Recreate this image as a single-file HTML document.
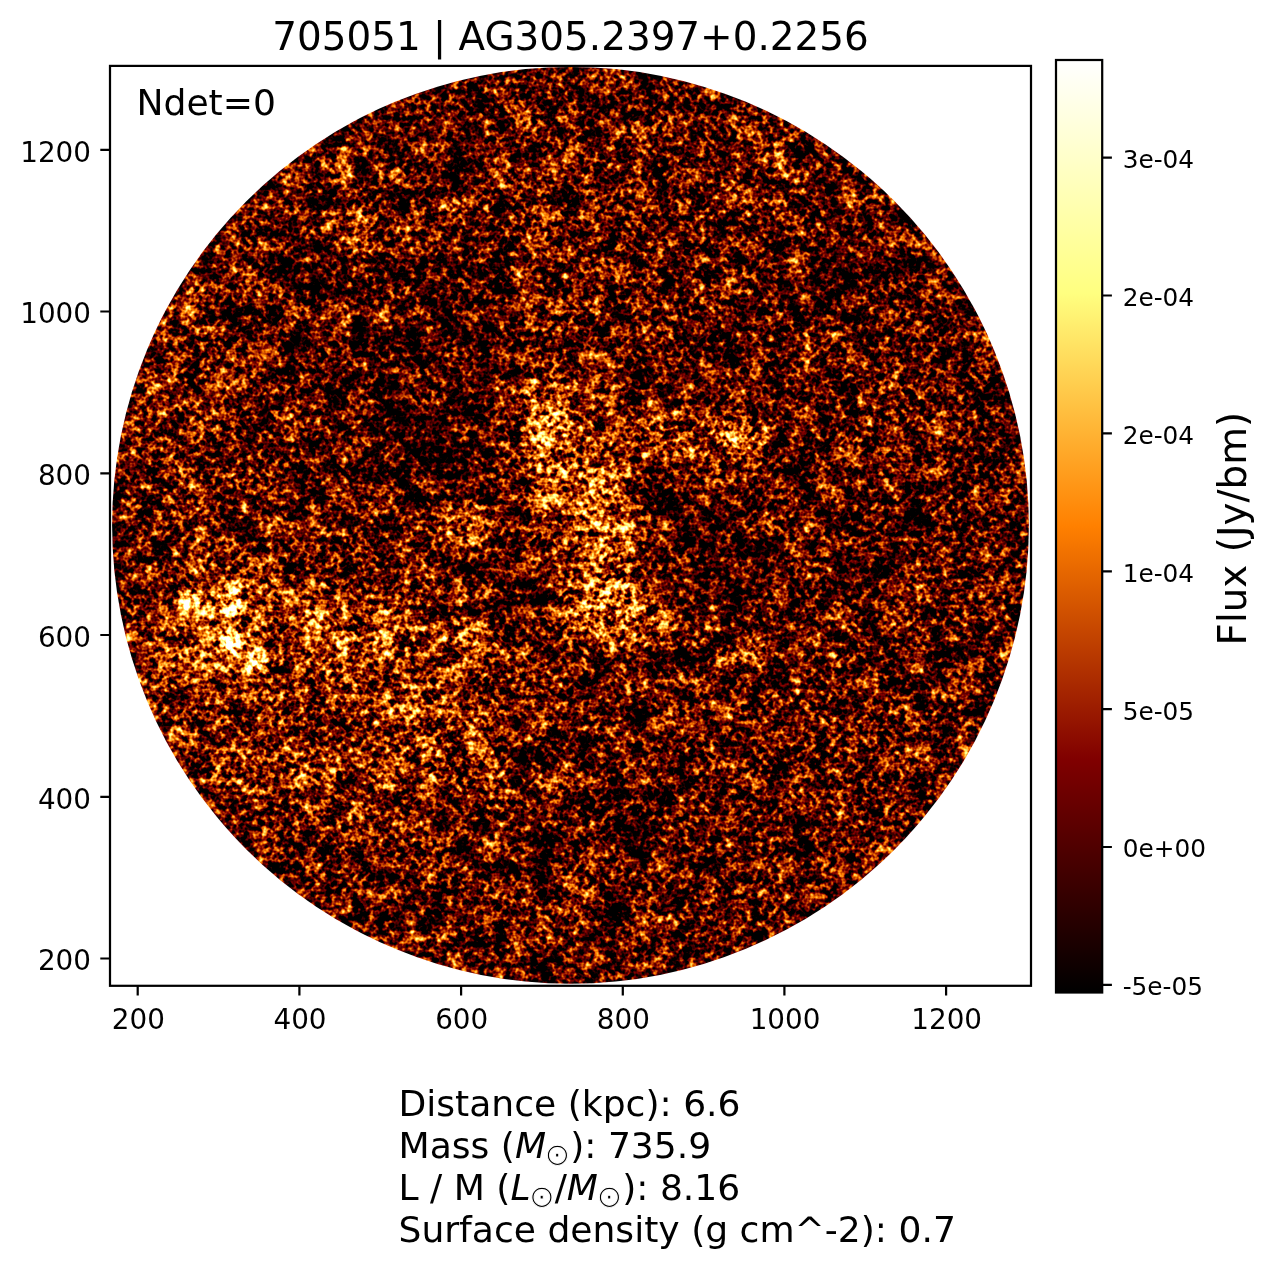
<!DOCTYPE html>
<html lang="en">
<head>
<meta charset="utf-8">
<title>705051 | AG305.2397+0.2256</title>
<style>
html,body{margin:0;padding:0;background:#fff;}
body{width:1274px;height:1267px;overflow:hidden;}
svg{display:block;}
text{font-family:"DejaVu Sans","Liberation Sans",sans-serif;fill:#000;}
.tk{font-size:27.8px;}
.ck{font-size:24.75px;}
.info{font-size:36.1px;}
.it{font-style:italic;}
.sun{font-size:30.8px;stroke:#fff;stroke-width:1.0px;}
</style>
</head>
<body>
<svg xmlns="http://www.w3.org/2000/svg" width="1274" height="1267" viewBox="0 0 1274 1267">
<defs>
  <clipPath id="disk"><circle cx="570.5" cy="525.3" r="458.4"/></clipPath>
  <linearGradient id="afmhot" x1="0" y1="1" x2="0" y2="0">
    <stop offset="0" stop-color="#000000"/>
    <stop offset="0.25" stop-color="#800000"/>
    <stop offset="0.5" stop-color="#ff8000"/>
    <stop offset="0.75" stop-color="#ffff80"/>
    <stop offset="1" stop-color="#ffffff"/>
  </linearGradient>
  <filter id="b16" x="-30%" y="-30%" width="160%" height="160%" color-interpolation-filters="sRGB"><feGaussianBlur stdDeviation="16"/></filter>
  <filter id="b7" x="-30%" y="-30%" width="160%" height="160%" color-interpolation-filters="sRGB"><feGaussianBlur stdDeviation="7"/></filter>
  <filter id="noise" x="0" y="0" width="100%" height="100%" filterUnits="objectBoundingBox" color-interpolation-filters="sRGB">
    <feGaussianBlur in="SourceGraphic" stdDeviation="3.5" result="low"/>
    <feTurbulence type="fractalNoise" baseFrequency="0.19" numOctaves="2" seed="7" result="t1"/>
    <feColorMatrix in="t1" type="matrix" values="1 0 0 0 0  1 0 0 0 0  1 0 0 0 0  0 0 0 0 1" result="g1a"/>
    <feGaussianBlur in="g1a" stdDeviation="0.7" result="g1"/>
    <feTurbulence type="fractalNoise" baseFrequency="0.043" numOctaves="1" seed="3" result="t2"/>
    <feColorMatrix in="t2" type="matrix" values="1 0 0 0 0  1 0 0 0 0  1 0 0 0 0  0 0 0 0 1" result="g2"/>
    <feTurbulence type="fractalNoise" baseFrequency="0.071" numOctaves="1" seed="11" result="t3"/>
    <feColorMatrix in="t3" type="matrix" values="1 0 0 0 0  1 0 0 0 0  1 0 0 0 0  0 0 0 0 1" result="g3"/>
    <feTurbulence type="fractalNoise" baseFrequency="0.027" numOctaves="1" seed="5" result="t4"/>
    <feColorMatrix in="t4" type="matrix" values="1 0 0 0 0  1 0 0 0 0  1 0 0 0 0  0 0 0 0 1" result="g4"/>
    <feTurbulence type="fractalNoise" baseFrequency="0.117" numOctaves="1" seed="23" result="t5"/>
    <feColorMatrix in="t5" type="matrix" values="1 0 0 0 0  1 0 0 0 0  1 0 0 0 0  0 0 0 0 1" result="g5"/>
    <feComposite in="g2" in2="g3" operator="arithmetic" k1="0" k2="0.5" k3="0.5" k4="0" result="ma"/>
    <feComposite in="g5" in2="g4" operator="arithmetic" k1="0" k2="0.625" k3="0.375" k4="0" result="mb"/>
    <feComposite in="ma" in2="mb" operator="arithmetic" k1="0" k2="0.6" k3="0.4" k4="0" result="mid"/>
    <feComposite in="g1" in2="mid" operator="arithmetic" k1="0" k2="1" k3="1.5" k4="-0.75" result="m"/>
    <feComposite in="m" in2="low" operator="arithmetic" k1="1.2" k2="1.2" k3="0.4" k4="-0.6" result="v"/>
    <feComponentTransfer in="v">
      <feFuncR type="table" tableValues="0 0.5 1 1 1"/>
      <feFuncG type="table" tableValues="0 0 0.5 1 1"/>
      <feFuncB type="table" tableValues="0 0 0 0.5 1"/>
      <feFuncA type="linear" slope="0" intercept="1"/>
    </feComponentTransfer>
  </filter>
</defs>
<rect x="0" y="0" width="1274" height="1267" fill="#fff"/>

<!-- image -->
<g clip-path="url(#disk)">
  <g filter="url(#noise)" id="lowmap">
    <rect x="100" y="56" width="942" height="942" fill="#292929"/>
    <g filter="url(#b16)"><ellipse cx="340" cy="700" rx="215" ry="135" transform="rotate(10 340 700)" fill="#424242" fill-opacity="0.8"/>
      <ellipse cx="260" cy="640" rx="130" ry="85" transform="rotate(0 260 640)" fill="#474747" fill-opacity="0.7"/>
      <ellipse cx="190" cy="430" rx="80" ry="140" transform="rotate(-12 190 430)" fill="#363636" fill-opacity="0.7"/>
      <ellipse cx="578" cy="505" rx="58" ry="135" transform="rotate(-14 578 505)" fill="#4c4c4c" fill-opacity="0.85"/>
      <ellipse cx="680" cy="545" rx="40" ry="75" transform="rotate(0 680 545)" fill="#1a1a1a" fill-opacity="0.7"/>
      <ellipse cx="400" cy="380" rx="110" ry="105" transform="rotate(0 400 380)" fill="#1a1a1a" fill-opacity="0.55"/>
      <ellipse cx="600" cy="855" rx="110" ry="55" transform="rotate(0 600 855)" fill="#1c1c1c" fill-opacity="0.5"/>
      <ellipse cx="880" cy="300" rx="130" ry="170" transform="rotate(0 880 300)" fill="#212121" fill-opacity="0.5"/>
      <ellipse cx="565" cy="265" rx="60" ry="95" transform="rotate(0 565 265)" fill="#363636" fill-opacity="0.7"/>
      <ellipse cx="765" cy="170" rx="42" ry="65" transform="rotate(0 765 170)" fill="#363636" fill-opacity="0.7"/>
      <ellipse cx="860" cy="770" rx="95" ry="85" transform="rotate(0 860 770)" fill="#303030" fill-opacity="0.7"/>
      <ellipse cx="455" cy="445" rx="52" ry="70" transform="rotate(-20 455 445)" fill="#121212" fill-opacity="0.8"/>
      <ellipse cx="430" cy="345" rx="80" ry="50" transform="rotate(0 430 345)" fill="#1a1a1a" fill-opacity="0.6"/>
      <ellipse cx="725" cy="555" rx="50" ry="58" transform="rotate(0 725 555)" fill="#161616" fill-opacity="0.8"/>
      <ellipse cx="590" cy="755" rx="50" ry="45" transform="rotate(0 590 755)" fill="#1a1a1a" fill-opacity="0.7"/>
      <ellipse cx="878" cy="535" rx="48" ry="78" transform="rotate(0 878 535)" fill="#1a1a1a" fill-opacity="0.7"/>
      <ellipse cx="800" cy="265" rx="48" ry="40" transform="rotate(0 800 265)" fill="#1a1a1a" fill-opacity="0.6"/>
      <ellipse cx="880" cy="420" rx="42" ry="52" transform="rotate(0 880 420)" fill="#333333" fill-opacity="0.7"/>
      <ellipse cx="843" cy="755" rx="42" ry="48" transform="rotate(0 843 755)" fill="#303030" fill-opacity="0.6"/>
      <ellipse cx="580" cy="490" rx="40" ry="60" transform="rotate(-20 580 490)" fill="#666666" fill-opacity="0.9"/>
      <ellipse cx="225" cy="625" rx="55" ry="45" transform="rotate(20 225 625)" fill="#616161" fill-opacity="0.9"/></g>
    <g filter="url(#b7)"><ellipse cx="452" cy="230" rx="32" ry="120" transform="rotate(0 452 230)" fill="#1c1c1c" fill-opacity="0.7"/>
      <ellipse cx="824" cy="794" rx="18" ry="18" transform="rotate(0 824 794)" fill="#121212" fill-opacity="0.7"/>
      <ellipse cx="518" cy="745" rx="17" ry="40" transform="rotate(0 518 745)" fill="#171717" fill-opacity="0.7"/>
      <ellipse cx="440" cy="840" rx="24" ry="52" transform="rotate(0 440 840)" fill="#1c1c1c" fill-opacity="0.6"/>
      <ellipse cx="555" cy="775" rx="28" ry="34" transform="rotate(0 555 775)" fill="#3d3d3d" fill-opacity="0.7"/>
      <ellipse cx="573" cy="884" rx="34" ry="34" transform="rotate(0 573 884)" fill="#3b3b3b" fill-opacity="0.7"/>
      <ellipse cx="530" cy="590" rx="20" ry="28" transform="rotate(0 530 590)" fill="#0d0d0d" fill-opacity="0.85"/>
      <ellipse cx="310" cy="270" rx="28" ry="28" transform="rotate(0 310 270)" fill="#121212" fill-opacity="0.8"/>
      <ellipse cx="473" cy="320" rx="30" ry="28" transform="rotate(0 473 320)" fill="#121212" fill-opacity="0.8"/>
      <ellipse cx="386" cy="411" rx="28" ry="28" transform="rotate(0 386 411)" fill="#121212" fill-opacity="0.8"/>
      <ellipse cx="404" cy="700" rx="18" ry="20" transform="rotate(0 404 700)" fill="#141414" fill-opacity="0.8"/>
      <ellipse cx="538" cy="842" rx="22" ry="22" transform="rotate(0 538 842)" fill="#121212" fill-opacity="0.8"/>
      <ellipse cx="635" cy="838" rx="28" ry="36" transform="rotate(0 635 838)" fill="#141414" fill-opacity="0.7"/>
      <ellipse cx="546" cy="425" rx="26" ry="42" transform="rotate(-5 546 425)" fill="#808080" fill-opacity="0.9"/>
      <ellipse cx="614" cy="548" rx="26" ry="38" transform="rotate(0 614 548)" fill="#7a7a7a" fill-opacity="0.9"/>
      <ellipse cx="605" cy="608" rx="38" ry="26" transform="rotate(-15 605 608)" fill="#8f8f8f" fill-opacity="0.9"/>
      <ellipse cx="650" cy="622" rx="22" ry="18" transform="rotate(0 650 622)" fill="#6b6b6b" fill-opacity="0.9"/>
      <ellipse cx="700" cy="438" rx="75" ry="24" transform="rotate(8 700 438)" fill="#545454" fill-opacity="0.9"/>
      <ellipse cx="733" cy="437" rx="26" ry="20" transform="rotate(0 733 437)" fill="#6b6b6b" fill-opacity="0.9"/>
      <ellipse cx="462" cy="522" rx="28" ry="22" transform="rotate(0 462 522)" fill="#5c5c5c" fill-opacity="0.9"/>
      <ellipse cx="743" cy="655" rx="26" ry="18" transform="rotate(0 743 655)" fill="#4c4c4c" fill-opacity="0.85"/>
      <ellipse cx="350" cy="638" rx="22" ry="28" transform="rotate(0 350 638)" fill="#666666" fill-opacity="0.9"/>
      <ellipse cx="400" cy="630" rx="120" ry="24" transform="rotate(5 400 630)" fill="#545454" fill-opacity="0.9"/>
      <ellipse cx="410" cy="700" rx="95" ry="26" transform="rotate(25 410 700)" fill="#4f4f4f" fill-opacity="0.9"/>
      <ellipse cx="435" cy="730" rx="45" ry="35" transform="rotate(0 435 730)" fill="#4c4c4c" fill-opacity="0.8"/>
      <ellipse cx="545" cy="845" rx="28" ry="28" transform="rotate(0 545 845)" fill="#3d3d3d" fill-opacity="0"/>
      <ellipse cx="435" cy="862" rx="36" ry="24" transform="rotate(0 435 862)" fill="#3d3d3d" fill-opacity="0.8"/>
      <ellipse cx="455" cy="208" rx="22" ry="16" transform="rotate(0 455 208)" fill="#474747" fill-opacity="0.85"/>
      <ellipse cx="183" cy="298" rx="20" ry="22" transform="rotate(0 183 298)" fill="#4c4c4c" fill-opacity="0.85"/>
      <ellipse cx="146" cy="429" rx="16" ry="22" transform="rotate(0 146 429)" fill="#4c4c4c" fill-opacity="0.85"/>
      <ellipse cx="538" cy="102" rx="20" ry="16" transform="rotate(0 538 102)" fill="#474747" fill-opacity="0.85"/></g>
    <ellipse cx="189" cy="599" rx="12" ry="11" transform="rotate(0 189 599)" fill="#d9d9d9" fill-opacity="0.95"/>
    <ellipse cx="230" cy="600" rx="13" ry="15" transform="rotate(0 230 600)" fill="#d9d9d9" fill-opacity="0.95"/>
    <ellipse cx="231" cy="642" rx="12" ry="12" transform="rotate(0 231 642)" fill="#ffffff" fill-opacity="0.95"/>
    <ellipse cx="255" cy="661" rx="14" ry="11" transform="rotate(0 255 661)" fill="#bfbfbf" fill-opacity="0.95"/>
    <ellipse cx="206" cy="616" rx="12" ry="10" transform="rotate(0 206 616)" fill="#8c8c8c" fill-opacity="0.9"/>
    <ellipse cx="355" cy="205" rx="14" ry="55" transform="rotate(-12 355 205)" fill="#4c4c4c" fill-opacity="0.85"/>
  </g>
</g>

<!-- axes frame -->
<rect x="110" y="65.9" width="921" height="919.9" fill="none" stroke="#000" stroke-width="2.22"/>
<!-- ticks -->
<g stroke="#000" stroke-width="2.22" fill="none">
  <path d="M137.7 985.8v9.7M299.4 985.8v9.7M461.1 985.8v9.7M622.8 985.8v9.7M784.4 985.8v9.7M946.1 985.8v9.7"/>
  <path d="M110 958.5h-9.7M110 796.8h-9.7M110 635h-9.7M110 473.3h-9.7M110 311.5h-9.7M110 149.8h-9.7"/>
</g>
<g class="tk" text-anchor="middle">
  <text x="138.3" y="1029.3">200</text>
  <text x="300" y="1029.3">400</text>
  <text x="461.7" y="1029.3">600</text>
  <text x="623.4" y="1029.3">800</text>
  <text x="785" y="1029.3">1000</text>
  <text x="946.7" y="1029.3">1200</text>
</g>
<g class="tk" text-anchor="end">
  <text x="91" y="970.2">200</text>
  <text x="91" y="808.5">400</text>
  <text x="91" y="646.7">600</text>
  <text x="91" y="485">800</text>
  <text x="91" y="323.2">1000</text>
  <text x="91" y="161.5">1200</text>
</g>
<text x="570.5" y="50.2" text-anchor="middle" font-size="38.9">705051 | AG305.2397+0.2256</text>
<text x="136.5" y="114.9" font-size="36.1">Ndet=0</text>

<!-- colorbar -->
<rect x="1056" y="60" width="46.2" height="932.5" fill="url(#afmhot)"/>
<rect x="1056" y="60" width="46.2" height="932.5" fill="none" stroke="#000" stroke-width="2.22"/>
<g stroke="#000" stroke-width="2.22">
  <path d="M1102.2 157.7h9.7M1102.2 295.5h9.7M1102.2 433.4h9.7M1102.2 571.3h9.7M1102.2 709.2h9.7M1102.2 847h9.7M1102.2 984.9h9.7"/>
</g>
<g class="ck">
  <text x="1122.7" y="168.1">3e-04</text>
  <text x="1122.7" y="305.9">2e-04</text>
  <text x="1122.7" y="443.8">2e-04</text>
  <text x="1122.7" y="581.7">1e-04</text>
  <text x="1122.7" y="719.6">5e-05</text>
  <text x="1122.7" y="857.4">0e+00</text>
  <text x="1122.7" y="995.3">-5e-05</text>
</g>
<text transform="translate(1246 528.6) rotate(-90)" text-anchor="middle" font-size="38.9">Flux (Jy/bm)</text>

<!-- info text -->
<g class="info">
  <text x="398.5" y="1116">Distance (kpc): 6.6</text>
  <text x="398.5" y="1158">Mass (<tspan class="it">M</tspan><tspan class="sun" dy="7" dx="-1.6">⊙</tspan><tspan dy="-7" dx="0">): 735.9</tspan></text>
  <text x="398.5" y="1200">L / M (<tspan class="it">L</tspan><tspan class="sun" dy="7" dx="-1.6">⊙</tspan><tspan dy="-7" dx="0">/</tspan><tspan class="it">M</tspan><tspan class="sun" dy="7" dx="-1.6">⊙</tspan><tspan dy="-7" dx="0">): 8.16</tspan></text>
  <text x="398.5" y="1241.6">Surface density (g cm^-2): 0.7</text>
</g>
</svg>
</body>
</html>
